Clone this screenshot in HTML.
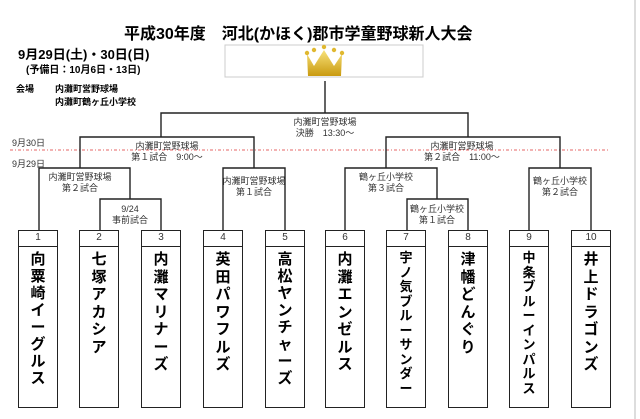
<!DOCTYPE html>
<html><head><meta charset="utf-8"><style>
body{margin:0;width:640px;height:419px;background:#fff;overflow:hidden;position:relative;font-family:"Liberation Sans","Noto Sans CJK JP",sans-serif;}
.a{position:absolute;white-space:nowrap;color:#000;}
.b{font-weight:bold;}
.lbl{position:absolute;font-size:9px;color:#333;text-align:center;line-height:11px;transform:translateX(-50%);white-space:nowrap;}
.box{position:absolute;top:230px;width:40px;height:178px;border:1.3px solid #222;box-sizing:border-box;}
.num{height:15px;border-bottom:1.3px solid #222;font-size:10px;text-align:center;line-height:14px;color:#333;}
.tn{font-weight:bold;font-size:15px;text-align:center;margin-top:4px;}
.tn span{display:block;}
</style></head><body>
<svg width="640" height="419" style="position:absolute;left:0;top:0">
<line x1="635" y1="0" x2="635" y2="419" stroke="#ddd" stroke-width="2"/>
<rect x="225" y="45" width="198" height="32" fill="#fff" stroke="#ccc" stroke-width="1"/>
<defs><linearGradient id="g" x1="0" y1="0" x2="0" y2="1"><stop offset="0" stop-color="#f8e27a"/><stop offset="1" stop-color="#c99a10"/></linearGradient></defs>
<polygon points="307,54 314,66 324,50 334,66 342,54 341,76 308,76" fill="url(#g)"/>
<circle cx="307" cy="53" r="2.2" fill="#e0b830"/><circle cx="314" cy="50" r="2.2" fill="#e0b830"/><circle cx="324" cy="47" r="2.2" fill="#e0b830"/><circle cx="334" cy="50" r="2.2" fill="#e0b830"/><circle cx="342" cy="53" r="2.2" fill="#e0b830"/>
<line x1="10" y1="150" x2="610" y2="150" stroke="#d33" stroke-width="0.8" stroke-dasharray="3,2,1,2"/>
<g stroke="#222" stroke-width="1.4" fill="none">
<path d="M325,81V113"/>
<path d="M161,137V113H468V137"/>
<path d="M80,168V137H254V168"/>
<path d="M386,168V137H560V168"/>
<path d="M39,230V168H130V199"/>
<path d="M100,230V199H161V230"/>
<path d="M223,230V168H285V230"/>
<path d="M345,230V168H437V199"/>
<path d="M407,230V199H468V230"/>
<path d="M529,230V168H591V230"/>
</g>
</svg>
<div class="a b" style="left:124px;top:20px;font-size:16px;">平成30年度　河北(かほく)郡市学童野球新人大会</div>
<div class="a b" style="left:18px;top:44px;font-size:13px;">9月29日(土)・30日(日)</div>
<div class="a b" style="left:26px;top:61px;font-size:10px;">(予備日：10月6日・13日)</div>
<div class="a b" style="left:16px;top:82px;font-size:9px;">会場</div>
<div class="a b" style="left:55px;top:82px;font-size:9px;">内灘町営野球場</div>
<div class="a b" style="left:55px;top:95px;font-size:9px;">内灘町鶴ヶ丘小学校</div>
<div class="a" style="left:12px;top:136px;font-size:9px;color:#333">9月30日</div>
<div class="a" style="left:12px;top:157px;font-size:9px;color:#333">9月29日</div>
<div class="lbl" style="left:325px;top:117px">内灘町営野球場<br>決勝　13:30〜</div>
<div class="lbl" style="left:167px;top:141px">内灘町営野球場<br>第１試合　9:00〜</div>
<div class="lbl" style="left:462px;top:141px">内灘町営野球場<br>第２試合　11:00〜</div>
<div class="lbl" style="left:80px;top:172px">内灘町営野球場<br>第２試合</div>
<div class="lbl" style="left:254px;top:176px">内灘町営野球場<br>第１試合</div>
<div class="lbl" style="left:386px;top:172px">鶴ヶ丘小学校<br>第３試合</div>
<div class="lbl" style="left:560px;top:176px">鶴ヶ丘小学校<br>第２試合</div>
<div class="lbl" style="left:130px;top:204px">9/24<br>事前試合</div>
<div class="lbl" style="left:437px;top:204px">鶴ヶ丘小学校<br>第１試合</div>

<div class="box" style="left:18px"><div class="num">1</div><div class="tn" style="line-height:17px"><span>向</span><span>粟</span><span>崎</span><span>イ</span><span>ー</span><span>グ</span><span>ル</span><span>ス</span></div></div>
<div class="box" style="left:79px"><div class="num">2</div><div class="tn" style="line-height:17.5px"><span>七</span><span>塚</span><span>ア</span><span>カ</span><span>シ</span><span>ア</span></div></div>
<div class="box" style="left:141px"><div class="num">3</div><div class="tn" style="line-height:17.5px"><span>内</span><span>灘</span><span>マ</span><span>リ</span><span>ナ</span><span>ー</span><span>ズ</span></div></div>
<div class="box" style="left:203px"><div class="num">4</div><div class="tn" style="line-height:17.5px"><span>英</span><span>田</span><span>パ</span><span>ワ</span><span>フ</span><span>ル</span><span>ズ</span></div></div>
<div class="box" style="left:265px"><div class="num">5</div><div class="tn" style="line-height:17px"><span>高</span><span>松</span><span>ヤ</span><span>ン</span><span>チ</span><span>ャ</span><span>ー</span><span>ズ</span></div></div>
<div class="box" style="left:325px"><div class="num">6</div><div class="tn" style="line-height:17.5px"><span>内</span><span>灘</span><span>エ</span><span>ン</span><span>ゼ</span><span>ル</span><span>ス</span></div></div>
<div class="box" style="left:386px"><div class="num">7</div><div class="tn" style="line-height:14.5px;font-size:13px"><span>宇</span><span>ノ</span><span>気</span><span>ブ</span><span>ル</span><span>ー</span><span>サ</span><span>ン</span><span>ダ</span><span>ー</span></div></div>
<div class="box" style="left:448px"><div class="num">8</div><div class="tn" style="line-height:17.5px"><span>津</span><span>幡</span><span>ど</span><span>ん</span><span>ぐ</span><span>り</span></div></div>
<div class="box" style="left:509px"><div class="num">9</div><div class="tn" style="line-height:14.5px;font-size:13px"><span>中</span><span>条</span><span>ブ</span><span>ル</span><span>ー</span><span>イ</span><span>ン</span><span>パ</span><span>ル</span><span>ス</span></div></div>
<div class="box" style="left:571px"><div class="num">10</div><div class="tn" style="line-height:17.5px"><span>井</span><span>上</span><span>ド</span><span>ラ</span><span>ゴ</span><span>ン</span><span>ズ</span></div></div>
</body></html>
